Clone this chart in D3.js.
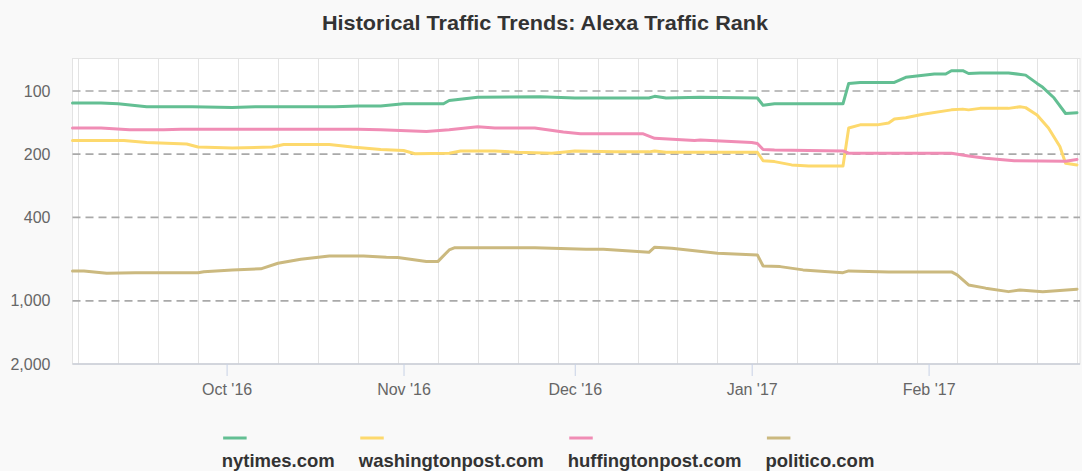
<!DOCTYPE html>
<html><head><meta charset="utf-8">
<script src="https://cdn.jsdelivr.net/npm/d3@7"></script>
<style>
html,body{margin:0;padding:0;background:#f9f9f9;}
svg{display:block;font-family:"Liberation Sans",Arial,sans-serif;}
</style></head>
<body><svg id="c" width="1082" height="471"></svg>
<script>
const titleText = "Historical Traffic Trends: Alexa Traffic Rank";
const seriesNames = ["nytimes.com","washingtonpost.com","huffingtonpost.com","politico.com"];
const seriesColors = ["#63bf93","#fdd96d","#f08db5","#cbb97f"];
const yTickValues = [100,200,400,1000,2000];
const yTickLabels = ["100","200","400","1,000","2,000"];
const xTickDates = ["2016-10-01","2016-11-01","2016-12-01","2017-01-01","2017-02-01"];
const xTickLabels = ["Oct '16","Nov '16","Dec '16","Jan '17","Feb '17"];
const xDomain = ["2016-09-04","2017-02-27"];

const nytimes = [
["2016-09-04",114],["2016-09-09",114],["2016-09-12",115],["2016-09-17",119],["2016-09-25",119],
["2016-10-02",120],["2016-10-06",119],["2016-10-14",119],["2016-10-20",119],["2016-10-24",118],
["2016-10-28",118],["2016-11-01",115],["2016-11-08",115],["2016-11-09",111],["2016-11-14",107],
["2016-11-25",106.5],["2016-12-01",108],["2016-12-14",108],["2016-12-15",106],["2016-12-17",108],
["2016-12-23",107],["2017-01-02",108],["2017-01-03",117],["2017-01-05",115],["2017-01-17",115],
["2017-01-18",92],["2017-01-20",91],["2017-01-26",91],["2017-01-28",86],["2017-02-02",83],
["2017-02-04",83],["2017-02-05",80],["2017-02-07",80],["2017-02-08",82.5],["2017-02-10",82],
["2017-02-15",82],["2017-02-18",84],["2017-02-20",92],["2017-02-21",96],["2017-02-23",108],
["2017-02-25",128],["2017-02-27",127]
];
const washingtonpost = [
["2016-09-04",172],["2016-09-13",172],["2016-09-17",176],["2016-09-24",179],["2016-09-26",185],
["2016-10-02",187],["2016-10-09",185],["2016-10-11",180],["2016-10-19",180],["2016-10-23",185],
["2016-10-28",190],["2016-11-01",192],["2016-11-03",199],["2016-11-09",198],["2016-11-11",193],
["2016-11-17",193],["2016-11-21",196],["2016-11-27",198],["2016-12-01",193],["2016-12-08",195],
["2016-12-14",195],["2016-12-15",193],["2016-12-17",196],["2017-01-02",196],["2017-01-03",215],
["2017-01-05",217],["2017-01-08",225],["2017-01-11",228],["2017-01-17",228],["2017-01-18",150],
["2017-01-20",145],["2017-01-23",145],["2017-01-25",142],["2017-01-26",136],["2017-01-28",134],
["2017-01-31",129],["2017-02-05",123],["2017-02-07",122],["2017-02-08",123],["2017-02-10",121],
["2017-02-15",121],["2017-02-17",119],["2017-02-18",120],["2017-02-20",130],["2017-02-22",150],
["2017-02-24",184],["2017-02-25",221],["2017-02-27",225]
];
const huffingtonpost = [
["2016-09-04",150],["2016-09-09",150],["2016-09-14",153],["2016-09-20",153],["2016-09-23",152],
["2016-10-24",152],["2016-10-28",153],["2016-11-05",156],["2016-11-09",153],["2016-11-14",148],
["2016-11-17",150],["2016-11-24",150],["2016-11-29",157],["2016-12-02",160],["2016-12-13",160],
["2016-12-15",168],["2016-12-22",172],["2016-12-23",171],["2017-01-01",176],["2017-01-02",178],
["2017-01-03",190],["2017-01-05",191],["2017-01-17",193],["2017-01-18",198],["2017-02-05",198],
["2017-02-08",204],["2017-02-11",209],["2017-02-16",215],["2017-02-25",216],["2017-02-27",212]
];
const politico = [
["2016-09-04",720],["2016-09-06",720],["2016-09-10",739],["2016-09-15",735],["2016-09-26",735],
["2016-09-27",726],["2016-10-02",712],["2016-10-07",704],["2016-10-10",662],["2016-10-14",633],
["2016-10-19",611],["2016-10-25",611],["2016-10-29",620],["2016-10-31",622],["2016-11-05",650],
["2016-11-07",650],["2016-11-09",572],["2016-11-10",558],["2016-11-24",558],["2016-12-03",568],
["2016-12-06",568],["2016-12-14",587],["2016-12-15",555],["2016-12-18",561],["2016-12-26",593],
["2017-01-02",604],["2017-01-03",682],["2017-01-06",687],["2017-01-10",712],["2017-01-17",734],
["2017-01-18",720],["2017-01-25",728],["2017-02-05",728],["2017-02-06",752],["2017-02-08",840],
["2017-02-11",870],["2017-02-15",904],["2017-02-17",887],["2017-02-21",904],["2017-02-27",880]
];
const allSeries = [nytimes, washingtonpost, huffingtonpost, politico];

const parse = d3.timeParse("%Y-%m-%d");
const svg = d3.select("#c");
const plot = {left:72.5, right:1077, top:58.5, bottom:364};

const x = d3.scaleTime().domain(xDomain.map(parse)).range([plot.left, plot.right]);
const y = d3.scaleLog().domain([70, 2000]).range([plot.top, plot.bottom]);

// plot background and border
svg.append("rect").attr("x",plot.left).attr("y",plot.top)
  .attr("width",plot.right-plot.left+3).attr("height",plot.bottom-plot.top)
  .attr("fill","#ffffff").attr("stroke","#e3e3e3").attr("stroke-width",1);

// weekly vertical grid
const d0 = x.domain()[0], d1 = d3.timeDay.offset(x.domain()[1], 1);
const weeks = d3.timeMonday.range(d0, d1);
svg.append("g").selectAll("line").data(weeks).join("line")
  .attr("x1",d=>Math.round(x(d))+0.5).attr("x2",d=>Math.round(x(d))+0.5)
  .attr("y1",plot.top).attr("y2",plot.bottom)
  .attr("stroke","#e3e3e3").attr("stroke-width",1);

// horizontal dashed grid
svg.append("g").selectAll("line").data(yTickValues.slice(0,-1)).join("line")
  .attr("x1",plot.left).attr("x2",plot.right+3)
  .attr("y1",d=>y(d)).attr("y2",d=>y(d))
  .attr("stroke","#a9a9a9").attr("stroke-width",1.6).attr("stroke-dasharray","8,5");

// y axis labels
const yAxis = d3.axisLeft(y).tickValues(yTickValues)
  .tickFormat((d,i)=>yTickLabels[i]).tickSize(0).tickPadding(22);
const gy = svg.append("g").attr("transform",`translate(${plot.left},0)`).call(yAxis);
gy.select(".domain").remove();
gy.selectAll("text").attr("fill","#666").style("font-size","16px")
  .style("font-family","'Liberation Sans',Arial,sans-serif");

// x axis
const xAxis = d3.axisBottom(x).tickValues(xTickDates.map(parse))
  .tickFormat((d,i)=>xTickLabels[i]).tickSizeInner(12).tickSizeOuter(0).tickPadding(8);
const gx = svg.append("g").attr("transform",`translate(0,${plot.bottom})`).call(xAxis);
gx.select(".domain").attr("stroke","#c8ccd6").attr("stroke-width",1.5)
  .attr("d",`M${plot.left},0H${plot.right+3}`);
gx.selectAll(".tick line").attr("stroke","#c8d2e6");
gx.selectAll("text").attr("fill","#666").style("font-size","16px")
  .style("font-family","'Liberation Sans',Arial,sans-serif");

// lines
const line = d3.line().x(d=>x(parse(d[0]))).y(d=>y(d[1])).curve(d3.curveLinear);
svg.append("g").selectAll("path").data(allSeries).join("path")
  .attr("d",line).attr("fill","none")
  .attr("stroke",(d,i)=>seriesColors[i]).attr("stroke-width",3)
  .attr("stroke-linejoin","round").attr("stroke-linecap","round");

// title
svg.append("text").attr("x",545).attr("y",30).attr("text-anchor","middle")
  .attr("fill","#333").style("font-size","21px").style("font-weight","bold")
  .attr("textLength",446).attr("lengthAdjust","spacingAndGlyphs")
  .text(titleText);

// legend
const lg = svg.append("g");
const items = lg.selectAll("g").data(seriesNames).join("g");
items.append("text").attr("y",467).attr("fill","#333")
  .style("font-size","18.5px").style("font-weight","bold").text(d=>d);
const widths = [];
items.selectAll("text").each(function(){ widths.push(this.getComputedTextLength()); });
const gap = 24;
const total = d3.sum(widths) + gap*(widths.length-1);
let cx = 548 - total/2;
items.each(function(d,i){
  d3.select(this).attr("transform",`translate(${cx},0)`);
  cx += widths[i] + gap;
});
items.append("line").attr("x1",1.5).attr("x2",25).attr("y1",438).attr("y2",438)
  .attr("stroke",(d,i)=>seriesColors[i]).attr("stroke-width",3);
</script>
</body></html>
